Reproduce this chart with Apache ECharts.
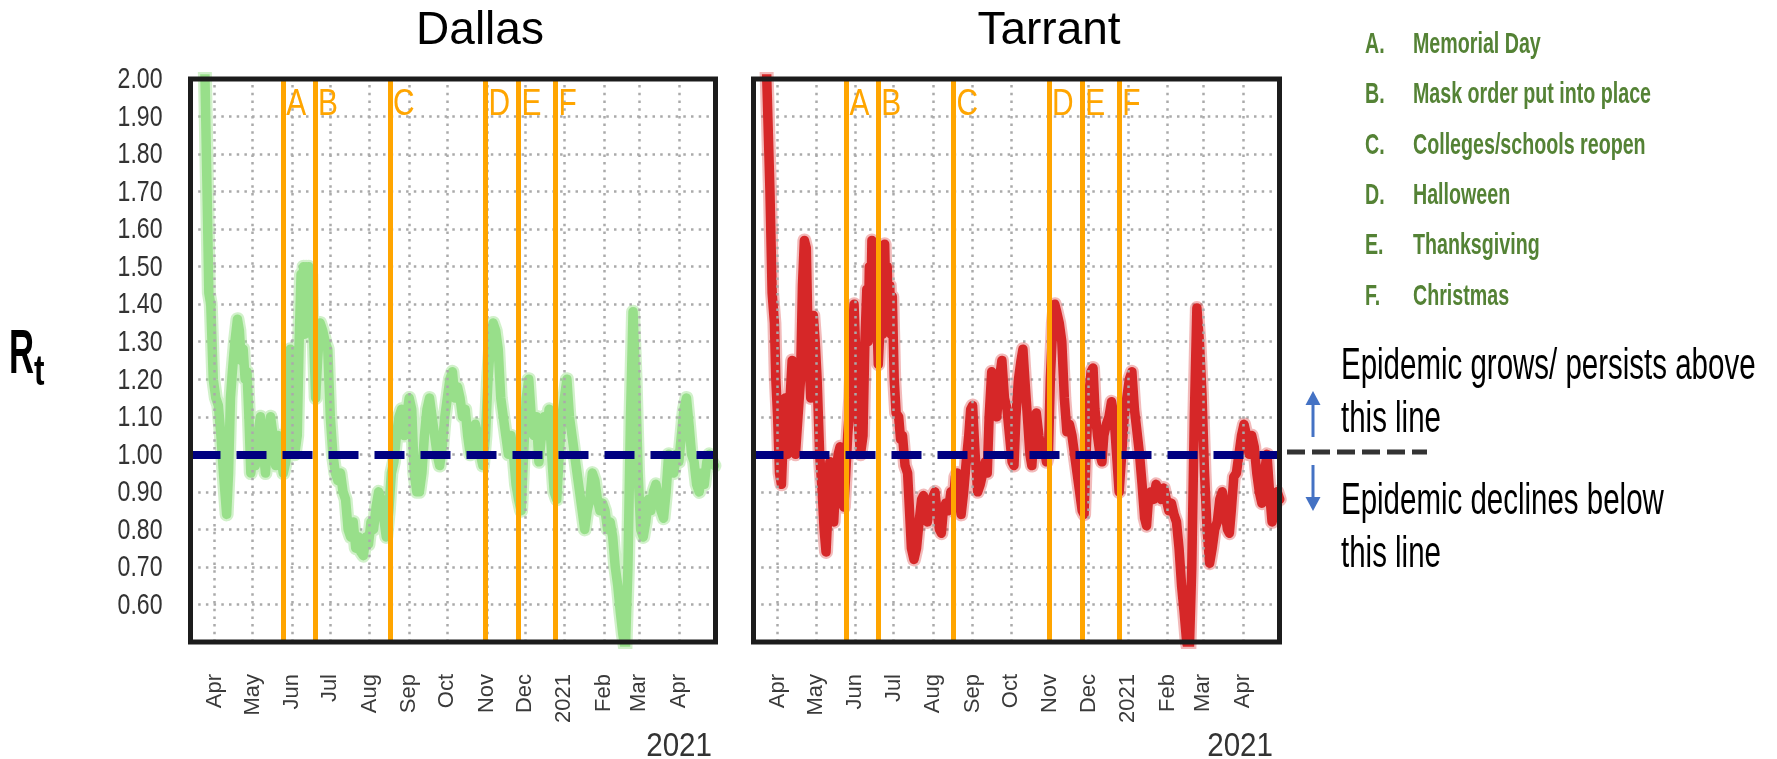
<!DOCTYPE html>
<html><head><meta charset="utf-8">
<script src="https://cdn.jsdelivr.net/npm/echarts@6/dist/echarts.min.js"></script>
<style>html,body{margin:0;padding:0;background:#fff}#c{width:1777px;height:759px}</style>
</head><body><div id="c"></div><script>
// ---- data (day offset from 2020-04-01, Rt) ----
const dallas = [[-9,2.2],[-7.5,2.0],[-6,1.72],[-4.5,1.43],[-3,1.40],[-1,1.2],[1,1.15],[3,1.13],[5,1.05],[7,0.95],[9.5,0.84],[11,0.95],[12.5,1.15],[14,1.22],[16,1.3],[18,1.36],[19.5,1.33],[21,1.25],[22.5,1.28],[24,1.2],[25.5,1.22],[27,1.1],[28.5,0.95],[30,1.0],[32,0.97],[34,1.05],[36,1.1],[38,1.02],[40,0.95],[42,1.05],[44,1.1],[46,1.05],[48,0.97],[50,1.05],[52,1.0],[54,0.95],[56,0.98],[58,1.1],[59.5,1.28],[61,1.2],[63,1.0],[65,1.05],[66.5,1.3],[68,1.48],[69,1.35],[70,1.5],[71,1.32],[72,1.5],[73,1.38],[74,1.5],[75,1.34],[76,1.48],[77,1.32],[78,1.3],[79.5,1.15],[81,1.25],[83,1.35],[85,1.33],[87,1.3],[89,1.28],[91,1.1],[93,1.0],[95,0.95],[97,0.93],[99,0.95],[101,0.9],[103,0.88],[105,0.8],[107,0.78],[109,0.82],[111,0.75],[113,0.78],[115,0.74],[117,0.73],[119,0.78],[121,0.76],[123,0.82],[125,0.8],[127,0.86],[129,0.9],[131,0.88],[133,0.83],[135,0.78],[137,0.85],[139,0.95],[141,0.98],[143,1.05],[145,1.1],[147,1.12],[149,1.05],[151,1.1],[153,1.15],[155,1.12],[157,0.95],[159,0.9],[161,0.9],[163,0.95],[165,1.05],[167,1.12],[169,1.15],[171,1.1],[173,1.05],[175,1.0],[177,0.97],[179,1.02],[181,1.1],[183,1.15],[185,1.2],[187,1.22],[189,1.15],[191,1.18],[193,1.15],[195,1.1],[197,1.12],[199,1.05],[201,1.0],[203,1.02],[205,1.08],[207,1.05],[209,1.0],[211,0.97],[213,1.05],[215,1.2],[217,1.3],[219,1.35],[221,1.33],[223,1.28],[225,1.15],[227,1.1],[229,1.05],[231,1.0],[233,1.05],[235,1.0],[237,0.92],[239,0.88],[241,0.85],[243,1.0],[245,1.15],[247,1.2],[249,1.1],[251,1.05],[253,1.1],[255,0.98],[257,1.05],[259,1.1],[261,1.05],[263,1.12],[265,1.0],[267,0.9],[269,0.88],[271,1.0],[273,1.1],[275,1.15],[277,1.2],[279,1.1],[281,1.05],[283,1.0],[285,0.95],[287,0.9],[289,0.85],[291,0.8],[293,0.85],[295,0.88],[297,0.95],[299,0.93],[301,0.88],[303,0.85],[305,0.87],[307,0.85],[309,0.8],[311,0.82],[313,0.78],[315,0.7],[317,0.65],[319,0.58],[321,0.52],[323,0.48],[325,0.7],[327,1.1],[329,1.38],[331,1.2],[333,0.95],[335,0.8],[337,0.78],[339,0.82],[341,0.88],[343,0.85],[345,0.9],[347,0.92],[349,0.88],[351,0.85],[353,0.83],[355,0.9],[357,1.0],[359,0.97],[361,0.95],[363,1.0],[365,0.98],[367,1.05],[369,1.12],[371,1.15],[373,1.08],[375,1.0],[377,0.98],[379,0.92],[381,0.9],[383,0.95],[385,0.92],[387,0.98],[389,1.0],[391,0.98],[393,0.97]];
const tarrant = [[-10,2.2],[-8.5,2.0],[-6,1.7],[-4.3,1.43],[-2.5,1.35],[-1.4,1.2],[0,1.1],[1.5,0.95],[3,0.92],[4.5,1.05],[6,1.15],[7.5,1.0],[9,1.1],[11.4,1.25],[12.5,1.05],[14,1.0],[16,1.1],[18,1.2],[19.5,1.45],[21,1.57],[22.5,1.55],[24,1.3],[26,1.15],[28,1.37],[29.5,1.3],[31,1.2],[33,1.0],[35,0.9],[36.5,0.8],[38,0.74],[39.5,0.85],[41,0.98],[42.5,0.88],[44,0.82],[46,0.95],[47.5,1.0],[49,1.02],[50.5,0.9],[52,0.86],[53.5,0.95],[55,1.05],[57,1.15],[58.5,1.3],[60,1.4],[61.5,1.25],[63,1.1],[65,1.0],[67,1.05],[68.5,1.3],[70,1.44],[71,1.3],[72,1.5],[73,1.36],[74,1.57],[75,1.4],[76,1.5],[77,1.32],[78,1.35],[79,1.24],[80.5,1.35],[81.5,1.5],[82.5,1.32],[84,1.56],[85,1.4],[86,1.5],[87,1.35],[88,1.45],[89,1.32],[90,1.42],[91.5,1.2],[93,1.11],[95,1.1],[96.5,1.04],[98,1.05],[100,0.97],[102,0.95],[103.5,0.85],[105,0.75],[107,0.72],[109,0.75],[111,0.82],[113,0.88],[114.5,0.89],[116,0.85],[117.5,0.82],[119,0.85],[121,0.88],[123.5,0.9],[125,0.85],[127,0.8],[128.5,0.79],[130,0.85],[132,0.87],[134,0.85],[136,0.9],[138,0.88],[139.5,0.94],[141,0.95],[142.5,0.88],[144,0.84],[146,0.9],[148,0.98],[150,1.05],[151.5,1.12],[153,1.13],[155,1.0],[157,0.9],[159,0.92],[161,0.95],[163,0.98],[164.5,0.95],[166,1.1],[168,1.22],[170,1.2],[172,1.1],[174,1.2],[176,1.25],[178,1.15],[180,1.12],[182,1.05],[184,0.98],[185.5,0.97],[187,1.1],[189,1.2],[191,1.25],[192.5,1.28],[194,1.2],[196,1.1],[198,1.0],[199.5,0.97],[201,1.05],[203,1.11],[205,1.05],[207,1.0],[209,1.02],[211,0.98],[212.5,1.0],[214,1.2],[216,1.35],[217.5,1.4],[219,1.38],[221,1.35],[223,1.3],[225,1.15],[227,1.06],[229,1.08],[231,1.05],[233,1.0],[235,0.95],[237,0.9],[239,0.85],[240.5,0.84],[242,1.0],[244,1.15],[246,1.22],[247.5,1.23],[249,1.12],[251,1.05],[253,1.0],[254.5,0.98],[256,1.05],[258,1.08],[260,1.1],[262,1.14],[264,1.1],[266,1.0],[268,0.9],[270,1.0],[272,1.1],[274,1.15],[276,1.2],[278,1.22],[280,1.12],[282,1.06],[284,1.0],[286,0.92],[288,0.83],[289.5,0.81],[291,0.88],[293,0.9],[295,0.88],[297,0.92],[299,0.9],[301,0.88],[303,0.91],[305,0.88],[307,0.85],[309,0.87],[311,0.84],[313,0.82],[315,0.75],[317,0.65],[319,0.58],[321,0.5],[323,0.47],[325,0.7],[327,1.1],[329,1.39],[331,1.3],[333,1.16],[335,0.95],[337,0.8],[339,0.71],[341,0.75],[343,0.8],[345,0.82],[347,0.88],[349,0.9],[351,0.85],[353,0.8],[354.5,0.79],[356,0.85],[358,0.94],[360,0.95],[362,1.0],[364,1.05],[366,1.08],[368,1.05],[370,1.0],[372,1.05],[374,1.02],[376,0.95],[378,0.9],[380,0.87],[382,0.95],[384,1.0],[386,0.9],[388,0.82],[390,0.85],[392,0.9],[394,0.88]];
const eventDates = ['2020-05-25','2020-06-19','2020-08-17','2020-10-31','2020-11-26','2020-12-25'];
const eventLetters = ['A','B','C','D','E','F'];
const monthTicks = ['2020-04-01','2020-05-01','2020-06-01','2020-07-01','2020-08-01','2020-09-01','2020-10-01','2020-11-01','2020-12-01','2021-01-01','2021-02-01','2021-03-01','2021-04-01'];
const monthLabels = ['Apr','May','Jun','Jul','Aug','Sep','Oct','Nov','Dec','2021','Feb','Mar','Apr'];
const yTickValues = [0.6,0.7,0.8,0.9,1.0,1.1,1.2,1.3,1.4,1.5,1.6,1.7,1.8,1.9,2.0];
const yTickLabels = ['0.60','0.70','0.80','0.90','1.00','1.10','1.20','1.30','1.40','1.50','1.60','1.70','1.80','1.90','2.00'];
const threshold = 1.0;
const legendLetters = ['A.','B.','C.','D.','E.','F.'];
const legendTexts = ['Memorial Day','Mask order put into place','Colleges/schools reopen','Halloween','Thanksgiving','Christmas'];
const panelTitles = ['Dallas','Tarrant'];

// ---- helpers ----
const DAY = 86400000;
function d(s){const p=s.split('-').map(Number);return new Date(p[0],p[1]-1,p[2]).getTime();}
const base = d('2020-04-01');
const toSeries = arr => arr.map(p => [base + p[0]*DAY, p[1]]);
const tickTs = monthTicks.map(d);
const xMin = new Date(2020,2,13,2).getTime();
const xMax = new Date(2021,3,29,20).getTime();
function labelFor(v){
  for (let i=0;i<tickTs.length;i++){ if (Math.abs(tickTs[i]-v) < DAY/2) return monthLabels[i]; }
  return '';
}
const SANS = '"Liberation Sans",Arial,sans-serif';
const LETTER_Y = 1.93;

const grids = [
  {left:190.5, top:79, width:525, height:563},
  {left:753.5, top:79, width:526, height:563}
];

function xAxis(i){
  return {type:'value', gridIndex:i, min:xMin, max:xMax, scale:true,
    axisLine:{show:false}, axisTick:{show:false}, splitLine:{show:false},
    axisLabel:{customValues:tickTs, rotate:90, margin:32, fontFamily:SANS, fontSize:22, color:'#3a3a3a',
      formatter:v=>labelFor(v)}};
}
function yAxis(i){
  return {type:'value', gridIndex:i, min:0.5, max:2.0, interval:0.1,
    axisLine:{show:false}, axisTick:{show:false},
    splitLine:{show:true, lineStyle:{color:'#aaaaaa', width:2.5, type:[2.5,5.2]}},
    axisLabel:{show:false}};
}
function panelSeries(i, data, color, halo, navyZ){
  const s = [
    {type:'line', xAxisIndex:i, yAxisIndex:i, data:[], z:1, silent:true,
      markLine:{silent:true, symbol:'none', animation:false, label:{show:false},
        lineStyle:{color:'#aaaaaa', width:2.5, type:[2.5,5.2]},
        data:tickTs.map(t=>({xAxis:t}))}},
    {type:'line', xAxisIndex:i, yAxisIndex:i, data:[], z:2, silent:true,
      markLine:{silent:true, symbol:'none', animation:false, label:{show:false},
        lineStyle:{color:'#FFA500', width:5, type:'solid'},
        data:eventDates.map(s=>({xAxis:d(s)}))}},
    {type:'line', xAxisIndex:i, yAxisIndex:i, data:toSeries(data), z:3, symbol:'none', animation:false,
      lineStyle:{color:halo, width:14, cap:'round', join:'round'}},
    {type:'line', xAxisIndex:i, yAxisIndex:i, data:toSeries(data), z:4, symbol:'none', animation:false,
      lineStyle:{color:color, width:9.5, cap:'round', join:'round'}},
    {type:'line', xAxisIndex:i, yAxisIndex:i, data:[], z:navyZ, silent:true,
      markLine:{silent:true, symbol:'none', animation:false, label:{show:false},
        lineStyle:{color:'#000080', width:8, type:[30,16], cap:'butt'},
        data:[{yAxis:threshold}]}},
    {type:'custom', xAxisIndex:i, yAxisIndex:i, z:6, silent:true, clip:false, animation:false,
      data:eventDates.map(s=>[d(s), LETTER_Y]),
      renderItem:(params, api)=>{
        const c = api.coord([api.value(0), api.value(1)]);
        return {type:'text', x:c[0]+3, y:c[1], scaleX:0.83,
          style:{text:eventLetters[params.dataIndex], font:'36px '+SANS, fill:'#FFA500', align:'left', verticalAlign:'middle'}};
      }}
  ];
  if (i === 0) {
    s.push({type:'custom', xAxisIndex:i, yAxisIndex:i, z:6, silent:true, clip:false, animation:false,
      data:yTickValues.map(v=>[xMin, v]),
      renderItem:(params, api)=>{
        const c = api.coord([api.value(0), api.value(1)]);
        return {type:'text', x:c[0]-28, y:c[1]+1, scaleX:0.77,
          style:{text:yTickLabels[params.dataIndex], font:'30px '+SANS, fill:'#333', align:'right', verticalAlign:'middle'}};
      }});
  }
  return s;
}

const graphic = [];
grids.forEach(g=>graphic.push({type:'rect', z:100, silent:true,
  shape:{x:g.left, y:g.top, width:g.width, height:g.height},
  style:{fill:'none', stroke:'#1c1c1c', lineWidth:5}}));
const titleX = [480, 1049];
panelTitles.forEach((t,i)=>graphic.push({type:'text', z:100, x:titleX[i], y:31,
  style:{text:t, font:'46px '+SANS, fill:'#000', align:'center', verticalAlign:'middle'}}));
[712, 1273].forEach(x=>graphic.push({type:'text', z:100, x:x, y:747, scaleX:0.87,
  style:{text:'2021', font:'34px '+SANS, fill:'#333', align:'right', verticalAlign:'middle'}}));
graphic.push({type:'text', z:100, x:9, y:356, scaleX:0.55,
  style:{text:'R', font:'bold 63px '+SANS, fill:'#000', align:'left', verticalAlign:'middle'}});
graphic.push({type:'text', z:100, x:34, y:373, scaleX:0.75,
  style:{text:'t', font:'bold 42px '+SANS, fill:'#000', align:'left', verticalAlign:'middle'}});
const legendY = [45,95,146,196,246,297];
legendLetters.forEach((l,k)=>{
  graphic.push({type:'text', z:100, x:1365, y:legendY[k], scaleX:0.655,
    style:{text:l, font:'bold 30px '+SANS, fill:'#548235', align:'left', verticalAlign:'middle'}});
  graphic.push({type:'text', z:100, x:1413, y:legendY[k], scaleX:0.655,
    style:{text:legendTexts[k], font:'bold 30px '+SANS, fill:'#548235', align:'left', verticalAlign:'middle'}});
});
[['Epidemic grows/ persists above',367],['this line',420],['Epidemic declines below',502],['this line',555]].forEach(a=>{
  graphic.push({type:'text', z:100, x:1341, y:a[1], scaleX:0.67,
    style:{text:a[0], font:'44px '+SANS, fill:'#000', align:'left', verticalAlign:'middle'}});
});
graphic.push({type:'line', z:100, shape:{x1:1313,y1:437,x2:1313,y2:402}, style:{stroke:'#4472C4', lineWidth:3}});
graphic.push({type:'polygon', z:100, shape:{points:[[1313,391],[1305.5,405],[1320.5,405]]}, style:{fill:'#4472C4'}});
graphic.push({type:'line', z:100, shape:{x1:1313,y1:465,x2:1313,y2:500}, style:{stroke:'#4472C4', lineWidth:3}});
graphic.push({type:'polygon', z:100, shape:{points:[[1313,511],[1305.5,497],[1320.5,497]]}, style:{fill:'#4472C4'}});
graphic.push({type:'line', z:100, shape:{x1:1287,y1:452,x2:1427,y2:452}, style:{stroke:'#333', lineWidth:5, lineDash:[18,7]}});

const chart = echarts.init(document.getElementById('c'), null, {renderer:'canvas'});
chart.setOption({
  animation:false,
  backgroundColor:'#fff',
  grid:grids.map(g=>Object.assign({show:false, containLabel:false}, g)),
  xAxis:[xAxis(0), xAxis(1)],
  yAxis:[yAxis(0), yAxis(1)],
  series:[].concat(panelSeries(0, dallas, '#98df8a', 'rgba(152,223,138,0.45)', 5),
                   panelSeries(1, tarrant, '#d62728', 'rgba(214,39,40,0.32)', 3.5)),
  graphic:graphic
});
</script></body></html>
